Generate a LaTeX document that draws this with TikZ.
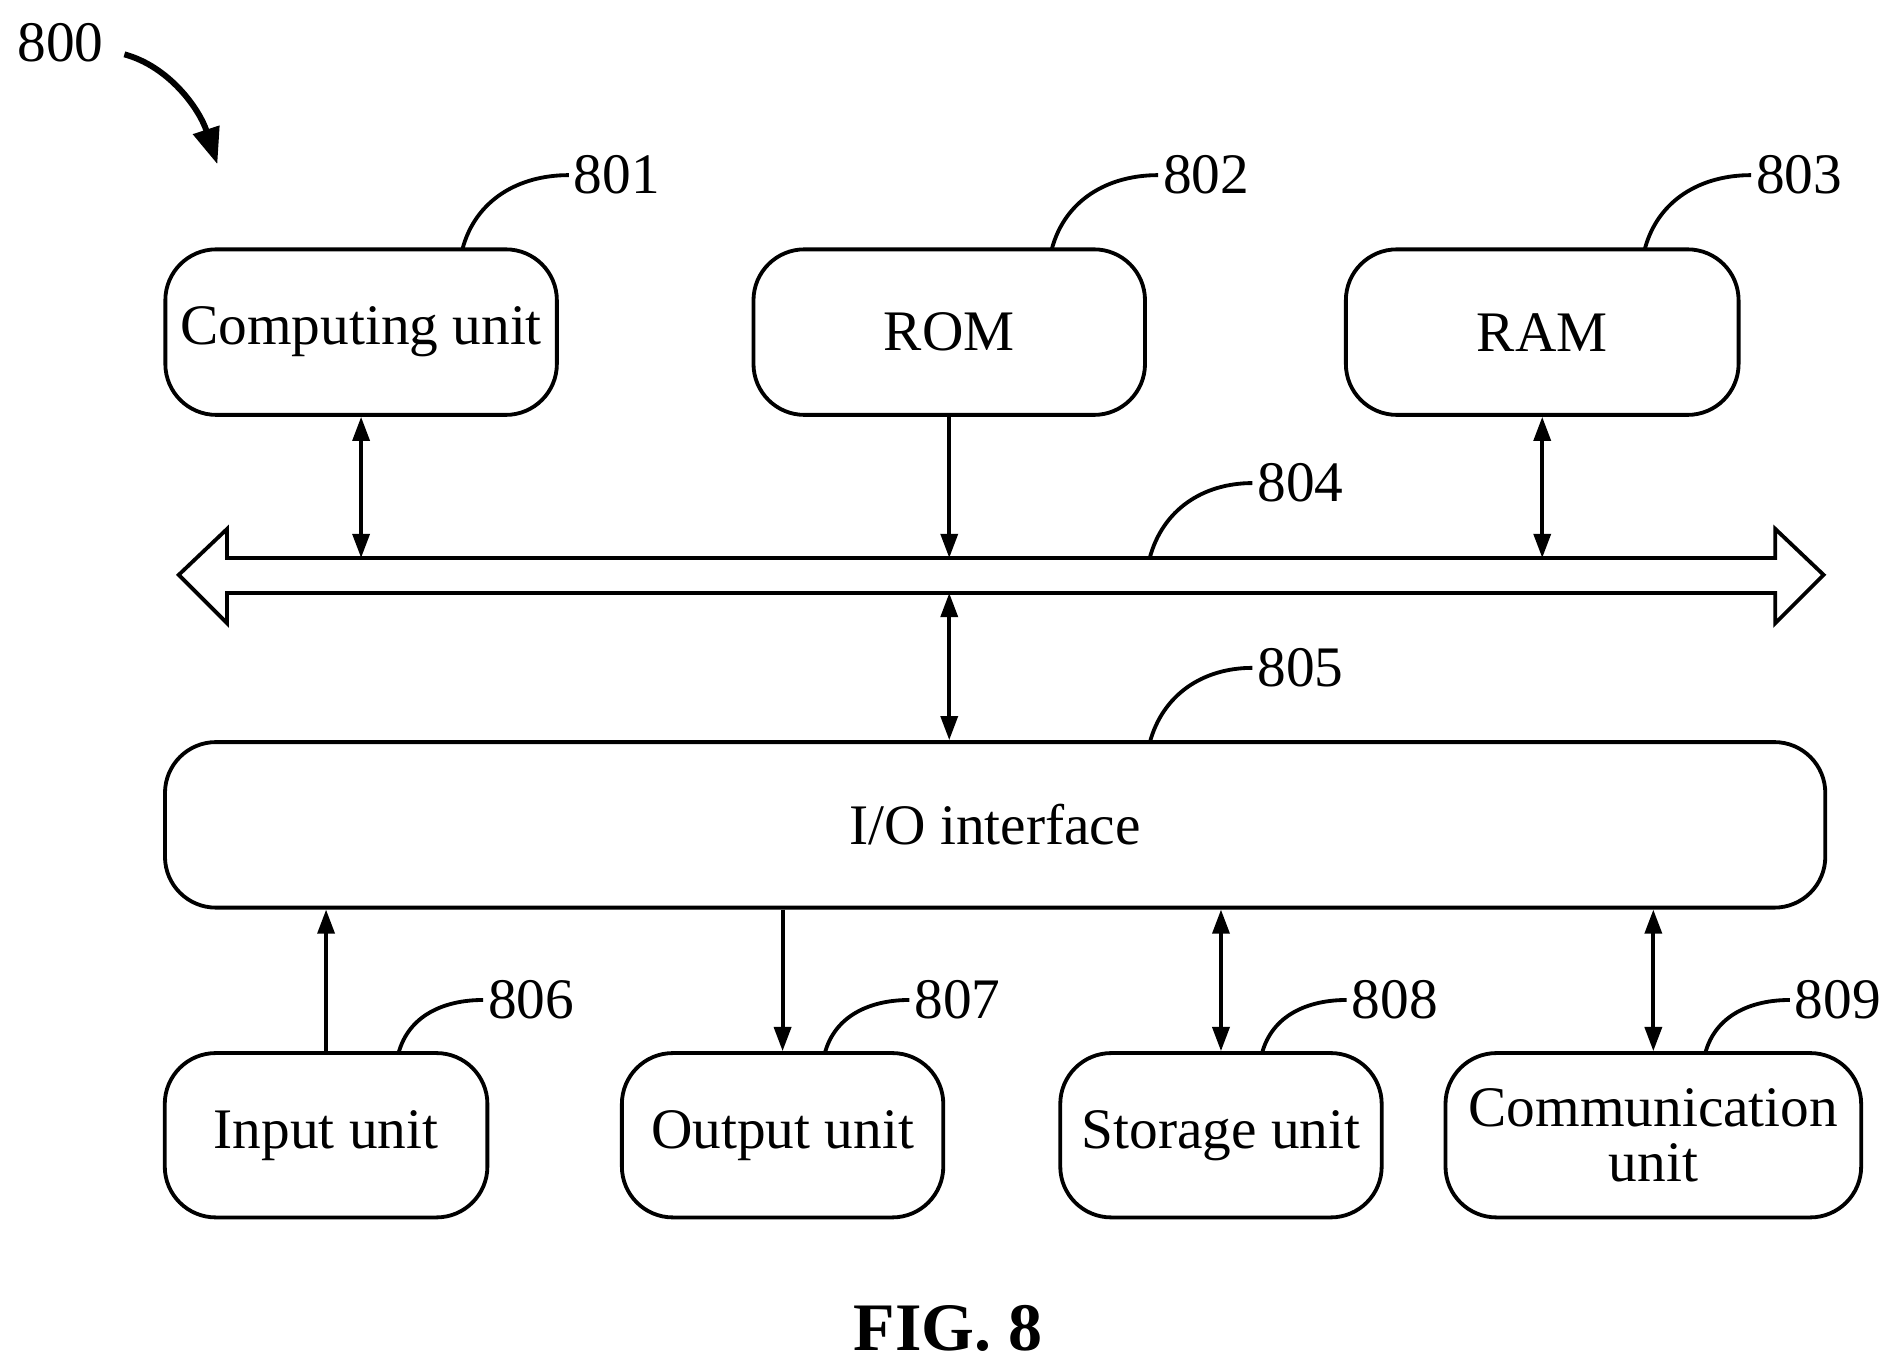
\documentclass[tikz,border=0pt]{standalone}
\usepackage{fontspec}
\setmainfont{Liberation Serif}
\usetikzlibrary{arrows.meta, positioning, calc}
\tikzset{
	blk/.style={draw, rounded corners=12pt, line width=0.9pt, align=center, inner sep=0pt, font=\fontsize{13.5pt}{15pt}\selectfont},
	lbl/.style={font=\fontsize{13.5pt}{15pt}\selectfont, inner sep=1pt},
	lead/.style={line width=0.9pt},
	tip/.style={line width=0.9pt, -{Triangle[length=0.2cm,width=0.14cm]}},
	dtip/.style={line width=0.9pt, {Triangle[length=0.2cm,width=0.14cm]}-{Triangle[length=0.2cm,width=0.14cm]}}
}
\begin{document}
\begin{tikzpicture}[x=0.01cm, y=-0.01cm]
	\useasboundingbox (0,0) rectangle (1560,1130);
	% top row
	\node[blk, minimum width=3.24cm, minimum height=1.37cm] (cu) at (299,275) {Computing unit};
	\node[blk, minimum width=3.24cm, minimum height=1.37cm] (rom) at (786,275) {ROM};
	\node[blk, minimum width=3.25cm, minimum height=1.37cm] (ram) at (1277,275) {RAM};
	% bus
	\pgfmathsetmacro{\bt}{462}
	\pgfmathsetmacro{\bb}{491}
	\draw[line width=0.9pt, fill=white] (148,476) -- (188,438) -- (188,\bt) -- (1470,\bt) -- (1470,438) -- (1510,476)
		-- (1470,516) -- (1470,\bb) -- (188,\bb) -- (188,516) -- cycle;
	\coordinate (bcu) at (299,\bt);
	\coordinate (brom) at (786,\bt);
	\coordinate (bram) at (1277,\bt);
	\coordinate (bio) at (786,\bb);
	% I/O
	\node[blk, minimum width=13.74cm, minimum height=1.37cm] (io) at (824,683) {I/O interface};
	% bottom row
	\node[blk, minimum width=2.67cm, minimum height=1.36cm] (in) at (270,940) {Input unit};
	\node[blk, minimum width=2.66cm, minimum height=1.36cm] (out) at (648,940) {Output unit};
	\node[blk, minimum width=2.66cm, minimum height=1.36cm] (sto) at (1011,940) {Storage unit};
	\node[blk, minimum width=3.44cm, minimum height=1.36cm] (com) at (1369,940) {Communication\\[-2pt]unit};
	% connectors
	\draw[dtip] (cu.south) -- (bcu);
	\draw[tip] (rom.south) -- (brom);
	\draw[dtip] (ram.south) -- (bram);
	\draw[dtip] (bio) -- (io.north -| bio);
	\draw[tip] (in.north) -- (io.south -| in.north);
	\draw[tip] (io.south -| out.north) -- (out.north);
	\draw[dtip] (io.south -| sto.north) -- (sto.north);
	\draw[dtip] (io.south -| com.north) -- (com.north);
	% reference numerals
	\node[lbl] (n800) at (50,35) {800};
	\coordinate (p800) at (180,136);
	\draw[line width=1.4pt, -{Triangle[length=0.3cm,width=0.22cm]}] (103,45) .. controls (140,55) and (165,90) .. (p800);
	\foreach \nm/\bx/\num in {cu/383/801, rom/871/802, ram/1362/803} {
		\node[lbl, anchor=west] (n\num) at (\bx+88,145) {\num};
		\draw[lead] (\bx,206) to[out=75, in=180] (n\num.west);
	}
	\node[lbl, anchor=west] (n804) at (1037,400) {804};
	\draw[lead] (952,\bt) to[out=75, in=180] (n804.west);
	\node[lbl, anchor=west] (n805) at (1037,553) {805};
	\draw[lead] (952,615) to[out=75, in=180] (n805.west);
	\foreach \bx/\num in {330/806, 683/807, 1045/808, 1412/809} {
		\node[lbl, anchor=west] (n\num) at (\bx+70,828) {\num};
		\draw[lead] (\bx,872) to[out=75, in=180] (n\num.west);
	}
	\node[font=\fontsize{16pt}{18pt}\selectfont\bfseries] (fig) at (785,1100) {FIG. 8};
\end{tikzpicture}
\end{document}
